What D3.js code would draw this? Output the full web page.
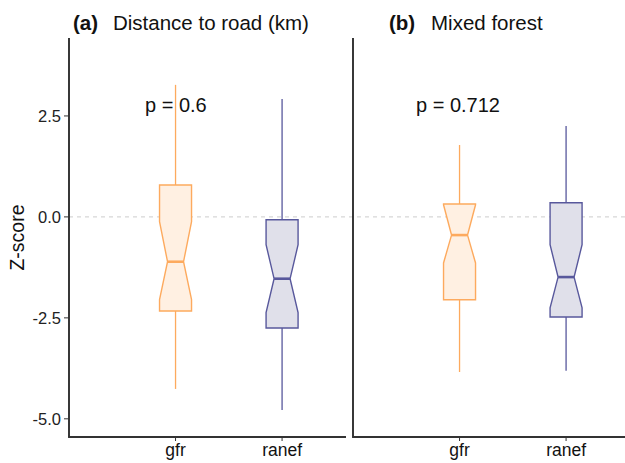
<!DOCTYPE html>
<html lang="en">
<head>
<meta charset="UTF-8">
<title>Z-score boxplots</title>
<script src="https://cdn.jsdelivr.net/npm/d3@7"></script>
<style>
  body { margin: 0; background: #fff; }
  text { font-family: "Liberation Sans", Arial, sans-serif; fill: #111; }
</style>
</head>
<body>
<script>
// data
var groups = ["gfr", "ranef"];
var panelLabels = ["(a)", "(b)"];
var panelTitles = ["Distance to road (km)", "Mixed forest"];
var pValues = ["p = 0.6", "p = 0.712"];
var whiskerLow  = [[-4.26, -4.78], [-3.84, -3.81]];
var q1          = [[-2.33, -2.75], [-2.05, -2.48]];
var notchLow    = [[-2.05, -2.37], [-1.14, -2.25]];
var median      = [[-1.11, -1.53], [-0.45, -1.49]];
var notchHigh   = [[-0.12, -0.69], [0.30, -0.69]];
var q3          = [[0.79, -0.07], [0.32, 0.35]];
var whiskerHigh = [[3.27, 2.92], [1.78, 2.25]];
var yTicks = [2.5, 0, -2.5, -5];

var w = 625, h = 463;
var strokeCol = ["#FDAA5E", "#58589C"];
var fillCol = ["#FFF0E2", "#E0E0EA"];

var svg = d3.select("body").append("svg")
    .attr("width", w)
    .attr("height", h);

var y = d3.scaleLinear().domain([-5.45, 4.43]).range([437, 38]);

var panels = [
    { left: 69, right: 346, xEnd: 346, labX: 73, titleX: 113, pX: 145 },
    { left: 353, right: 630, xEnd: 625, labX: 389, titleX: 431, pX: 416 }
];

// dashed zero line across both panels
svg.append("line")
    .attr("x1", 69).attr("x2", w)
    .attr("y1", y(0)).attr("y2", y(0))
    .attr("stroke", "#cccccc")
    .attr("stroke-width", 1)
    .attr("stroke-dasharray", "4,4");

panels.forEach(function(p, pi) {
    var x = d3.scaleLinear().domain([0, 2.6]).range([p.left, p.right]);
    var g = svg.append("g");
    var hw = 16, nw = 8;

    groups.forEach(function(name, gi) {
        var cx = x(gi + 1);
        var nh = Math.min(notchHigh[pi][gi], q3[pi][gi]);
        var nl = Math.max(notchLow[pi][gi], q1[pi][gi]);

        // whiskers
        g.append("line")
            .attr("x1", cx).attr("x2", cx)
            .attr("y1", y(whiskerHigh[pi][gi])).attr("y2", y(q3[pi][gi]))
            .attr("stroke", strokeCol[gi]).attr("stroke-width", 1.3);
        g.append("line")
            .attr("x1", cx).attr("x2", cx)
            .attr("y1", y(q1[pi][gi])).attr("y2", y(whiskerLow[pi][gi]))
            .attr("stroke", strokeCol[gi]).attr("stroke-width", 1.3);

        // notched box
        var pts = [
            [cx - hw, y(q3[pi][gi])],
            [cx - hw, y(nh)],
            [cx - hw + nw, y(median[pi][gi])],
            [cx - hw, y(nl)],
            [cx - hw, y(q1[pi][gi])],
            [cx + hw, y(q1[pi][gi])],
            [cx + hw, y(nl)],
            [cx + hw - nw, y(median[pi][gi])],
            [cx + hw, y(nh)],
            [cx + hw, y(q3[pi][gi])]
        ];
        g.append("path")
            .attr("d", d3.line()(pts) + "Z")
            .attr("fill", fillCol[gi])
            .attr("stroke", strokeCol[gi])
            .attr("stroke-width", 1.4);

        // median
        g.append("line")
            .attr("x1", cx - hw + nw).attr("x2", cx + hw - nw)
            .attr("y1", y(median[pi][gi])).attr("y2", y(median[pi][gi]))
            .attr("stroke", strokeCol[gi]).attr("stroke-width", 2.6);

        // x tick + label
        g.append("line")
            .attr("x1", cx).attr("x2", cx)
            .attr("y1", 437).attr("y2", 441)
            .attr("stroke", "#333");
        g.append("text")
            .attr("x", cx).attr("y", 456)
            .attr("text-anchor", "middle")
            .style("font-size", "17.5px")
            .text(name);
    });

    // axes
    g.append("line")
        .attr("x1", p.left).attr("x2", p.left)
        .attr("y1", 38).attr("y2", 437.5)
        .attr("stroke", "#222").attr("stroke-width", 1.8);
    g.append("line")
        .attr("x1", p.left - 0.9).attr("x2", p.xEnd)
        .attr("y1", 437).attr("y2", 437)
        .attr("stroke", "#333").attr("stroke-width", 1.8);

    // titles
    g.append("text")
        .attr("x", p.labX).attr("y", 30)
        .style("font-size", "20.5px").style("font-weight", "bold")
        .text(panelLabels[pi]);
    g.append("text")
        .attr("x", p.titleX).attr("y", 30)
        .style("font-size", "20.5px")
        .text(panelTitles[pi]);

    g.append("text")
        .attr("x", p.pX).attr("y", 112)
        .style("font-size", "20px")
        .text(pValues[pi]);
});

// y ticks only on first panel
var ya = svg.append("g");
yTicks.forEach(function(t) {
    ya.append("line")
        .attr("x1", 64).attr("x2", 69)
        .attr("y1", y(t)).attr("y2", y(t))
        .attr("stroke", "#333");
    ya.append("text")
        .attr("x", 61).attr("y", y(t))
        .attr("dy", "0.36em")
        .attr("text-anchor", "end")
        .style("font-size", "16.5px")
        .style("fill", "#222")
        .text(d3.format(".1f")(t).replace("−", "-"));
});

svg.append("text")
    .attr("transform", "translate(24," + ((38 + 437) / 2) + ") rotate(-90)")
    .attr("text-anchor", "middle")
    .style("font-size", "19.5px")
    .text("Z-score");
</script>
</body>
</html>
